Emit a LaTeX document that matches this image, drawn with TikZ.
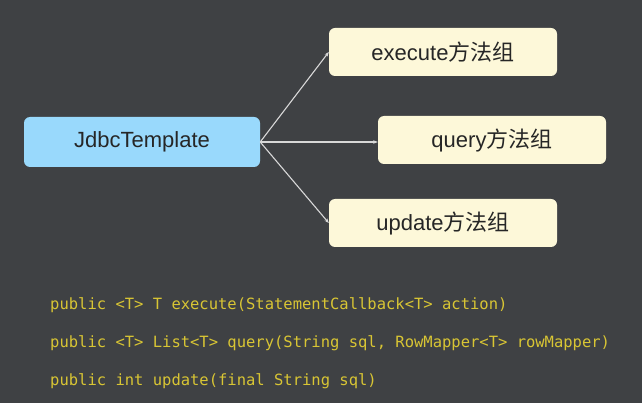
\documentclass[tikz,border=0pt]{standalone}
\usepackage{fontspec}
\setmainfont{Liberation Sans}
\newfontfamily\cjk{Noto Sans CJK SC}
\setmonofont{DejaVu Sans Mono}
\usetikzlibrary{arrows.meta}
\definecolor{bgc}{HTML}{45474A}
\definecolor{bluebox}{HTML}{99D9FC}
\definecolor{yelbox}{HTML}{FDF8D9}
\definecolor{codey}{HTML}{D8C534}
\definecolor{arrc}{HTML}{D8D8D8}
\tikzset{
  base/.style={rounded corners=6pt, minimum height=48pt, inner sep=0pt, text=black!85, font=\fontsize{22}{26}\selectfont},
  bluenode/.style={base, fill=bluebox, minimum width=236pt, minimum height=50pt},
  yelnode/.style={base, fill=yelbox, minimum width=228pt},
  conn/.style={draw=arrc, line width=1.1pt, -{Stealth[length=4.5pt,width=3.5pt]}},
  code/.style={anchor=west, text=codey, inner sep=0pt, font=\ttfamily\fontsize{15.5}{18}\selectfont}
}
\begin{document}
\begin{tikzpicture}[x=1pt,y=-1pt]
\shade[inner color=bgc!100!white!108, outer color=bgc!80!black] (0,0) rectangle (642,403);
\fill[bgc, opacity=0.6] (0,0) rectangle (642,403);
\useasboundingbox (0,0) rectangle (642,403);
\node[bluenode] (jt) at (142,142) {JdbcTemplate};
\node[yelnode] (ex) at (443,52) {execute{\cjk 方法组}};
\node[yelnode] (qu) at (492,140) {query{\cjk 方法组}};
\node[yelnode] (up) at (443,223) {update{\cjk 方法组}};
\coordinate (src) at (jt.east);
\draw[conn] (src) -- (ex.west);
\draw[conn] (src) -- (qu.west |- src);
\draw[conn] (src) -- (up.west);
\node[code] (c1) at (50,305) {public <T> T execute(StatementCallback<T> action)};
\node[code] (c2) at (50,343) {public <T> List<T> query(String sql, RowMapper<T> rowMapper)};
\node[code] (c3) at (50,381) {public int update(final String sql)};
\end{tikzpicture}
\end{document}
